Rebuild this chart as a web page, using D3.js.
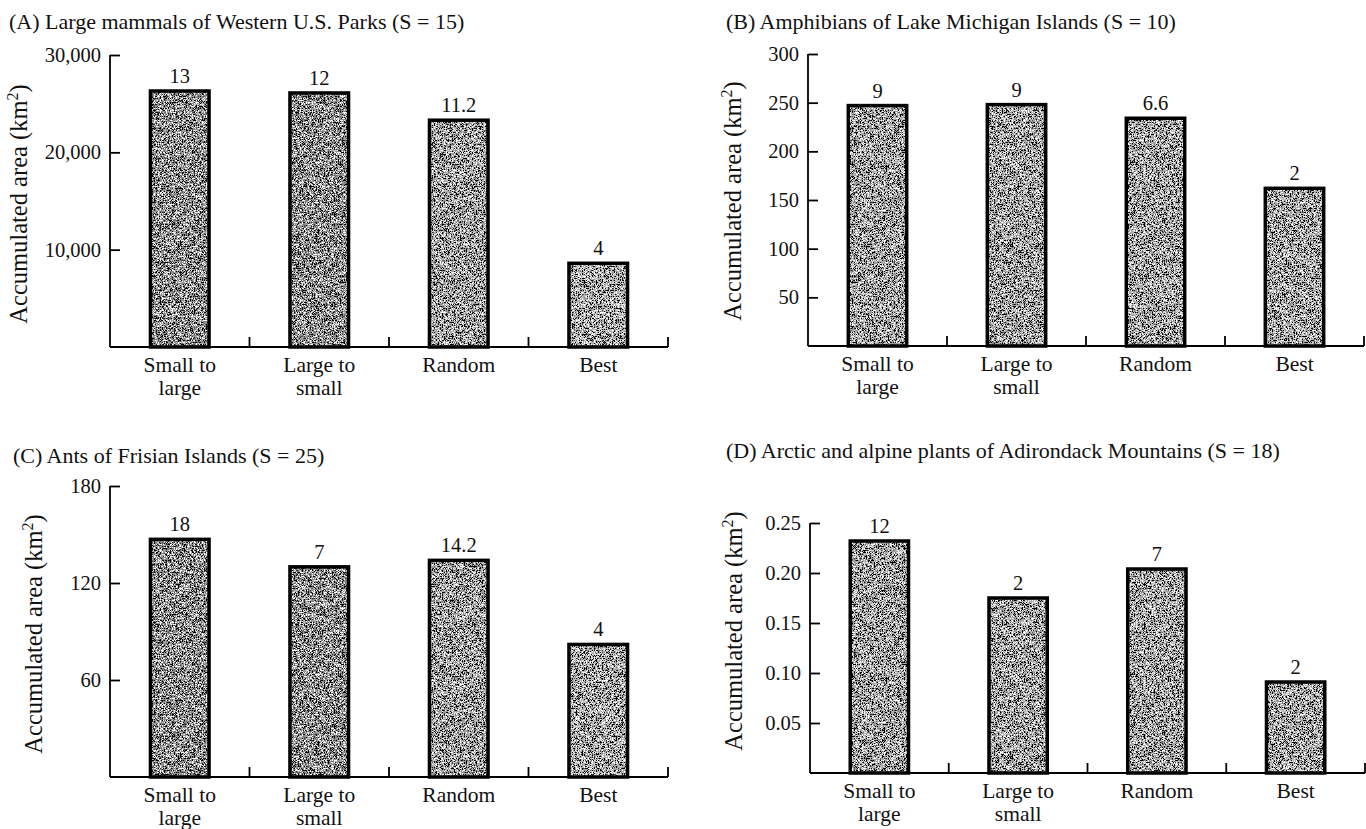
<!DOCTYPE html>
<html>
<head>
<meta charset="utf-8">
<script src="https://cdn.jsdelivr.net/npm/d3@7/dist/d3.min.js"></script>
<style>
  html, body { margin: 0; padding: 0; background: #fff; }
  svg { display: block; }
  text { font-family: "Liberation Serif", "Times New Roman", serif; fill: #111; }
</style>
</head>
<body>
<svg id="chart" width="1366" height="829"></svg>
<script>
// ---------------- DATA ----------------
const categories = ["Small to large", "Large to small", "Random", "Best"];
const categoryLines = [["Small to", "large"], ["Large to", "small"], ["Random"], ["Best"]];

const panelTitles = [
  "(A)  Large mammals of Western U.S. Parks (S = 15)",
  "(B)  Amphibians of Lake Michigan Islands (S = 10)",
  "(C)  Ants of Frisian Islands (S = 25)",
  "(D)  Arctic and alpine plants of Adirondack Mountains (S = 18)"
];

// accumulated area (km²) per strategy
const areaA = [26300, 26100, 23300, 8600];
const areaB = [247, 248, 234, 162];
const areaC = [147, 130, 134, 82];
const areaD = [0.232, 0.175, 0.204, 0.091];

// numbers printed above bars (species protected)
const countA = ["13", "12", "11.2", "4"];
const countB = ["9", "9", "6.6", "2"];
const countC = ["18", "7", "14.2", "4"];
const countD = ["12", "2", "7", "2"];

// y-axis ticks
const yTicksA = [10000, 20000, 30000];
const yTicksB = [50, 100, 150, 200, 250, 300];
const yTicksC = [60, 120, 180];
const yTicksD = [0.05, 0.10, 0.15, 0.20, 0.25];
const yMax = [30000, 300, 180, 0.25];
const yFormats = [",", "d", "d", ".2f"];

// ---------------- STYLE / LAYOUT ----------------
const layout = [
  {x0: 110, x1: 668,  yTop: 55,  yBase: 347, tx: 9,   ty: 29,  lx: 27,  ly: 204},
  {x0: 808, x1: 1364, yTop: 54,  yBase: 346, tx: 726, ty: 29,  lx: 741, ly: 201},
  {x0: 110, x1: 668,  yTop: 486, yBase: 777, tx: 13,  ty: 463, lx: 42,  ly: 634},
  {x0: 810, x1: 1365, yTop: 523, yBase: 773, tx: 726, ty: 458, lx: 742, ly: 631}
];
const barShades = [
  ["#8e8e8e", "#8e8e8e", "#a4a4a4", "#aeaeae"],
  ["#a6a6a6", "#a6a6a6", "#a8a8a8", "#aaaaaa"],
  ["#8c8c8c", "#8e8e8e", "#a2a2a2", "#acacac"],
  ["#a6a6a6", "#a6a6a6", "#a6a6a6", "#aaaaaa"]
];

const svg = d3.select("#chart");

// stipple texture filter
const defs = svg.append("defs");
const f = defs.append("filter").attr("id", "stipple")
  .attr("x", 0).attr("y", 0).attr("width", 1).attr("height", 1)
  .attr("color-interpolation-filters", "sRGB");
f.append("feTurbulence").attr("type", "fractalNoise").attr("baseFrequency", 1.5)
  .attr("numOctaves", 1).attr("seed", 5).attr("result", "n");
f.append("feColorMatrix").attr("in", "n").attr("type", "matrix")
  .attr("values", "0 0 0 0 0  0 0 0 0 0  0 0 0 0 0  9 0 0 0 -4.6").attr("result", "dk");
f.append("feColorMatrix").attr("in", "n").attr("type", "matrix")
  .attr("values", "0 0 0 0 1  0 0 0 0 1  0 0 0 0 1  -9 0 0 0 4.4").attr("result", "lt");
f.append("feComposite").attr("in", "dk").attr("in2", "SourceGraphic").attr("operator", "in").attr("result", "dk2");
f.append("feComposite").attr("in", "lt").attr("in2", "SourceGraphic").attr("operator", "in").attr("result", "lt2");
const m = f.append("feMerge");
m.append("feMergeNode").attr("in", "SourceGraphic");
m.append("feMergeNode").attr("in", "dk2");
m.append("feMergeNode").attr("in", "lt2");

const areas = [areaA, areaB, areaC, areaD];
const counts = [countA, countB, countC, countD];
const yTicks = [yTicksA, yTicksB, yTicksC, yTicksD];

layout.forEach((L, p) => {
  const g = svg.append("g");
  const x = d3.scaleBand().domain(categories).range([L.x0, L.x1])
    .paddingInner(0.58).paddingOuter(0.29);
  const y = d3.scaleLinear().domain([0, yMax[p]]).range([L.yBase, L.yTop]);
  const data = categories.map((c, i) => ({c, v: areas[p][i], n: counts[p][i], i}));

  // title
  g.append("text").attr("x", L.tx).attr("y", L.ty)
    .attr("font-size", 22).text(panelTitles[p]);

  // y label
  const yl = g.append("text")
    .attr("transform", `translate(${L.lx},${L.ly}) rotate(-90)`)
    .attr("text-anchor", "middle").attr("font-size", 24.5);
  yl.append("tspan").text("Accumulated area (km");
  yl.append("tspan").attr("font-size", 16).attr("dy", -9).text("2");
  yl.append("tspan").attr("dy", 9).text(")");

  // bars: textured fill
  g.append("g").selectAll("rect").data(data).join("rect")
    .attr("x", d => x(d.c)).attr("width", x.bandwidth())
    .attr("y", d => y(d.v)).attr("height", d => y(0) - y(d.v))
    .attr("fill", d => barShades[p][d.i])
    .attr("filter", "url(#stipple)");
  // bar outlines
  g.append("g").selectAll("rect").data(data).join("rect")
    .attr("x", d => x(d.c)).attr("width", x.bandwidth())
    .attr("y", d => y(d.v)).attr("height", d => y(0) - y(d.v))
    .attr("fill", "none").attr("stroke", "#000").attr("stroke-width", 3.5);

  // value labels
  g.append("g").selectAll("text").data(data).join("text")
    .attr("x", d => x(d.c) + x.bandwidth() / 2).attr("y", d => y(d.v) - 8)
    .attr("text-anchor", "middle").attr("font-size", 20.5).text(d => d.n);

  // y axis
  const yAxis = d3.axisRight(y).tickValues(yTicks[p]).tickSize(10).tickFormat(() => "");
  const ya = g.append("g").attr("transform", `translate(${L.x0},0)`).call(yAxis);
  ya.select(".domain").remove();
  ya.selectAll(".tick line").attr("stroke", "#000").attr("stroke-width", 1.8);
  g.append("line").attr("x1", L.x0).attr("x2", L.x0).attr("y1", L.yTop).attr("y2", L.yBase)
    .attr("stroke", "#000").attr("stroke-width", 1.8);
  g.append("g").selectAll("text").data(yTicks[p]).join("text")
    .attr("x", L.x0 - 9).attr("y", d => y(d)).attr("dy", "0.34em")
    .attr("text-anchor", "end").attr("font-size", 20.5)
    .text(d => d3.format(yFormats[p])(d));

  // x axis with upward ticks at band boundaries
  g.append("line").attr("x1", L.x0).attr("x2", L.x1).attr("y1", L.yBase).attr("y2", L.yBase)
    .attr("stroke", "#000").attr("stroke-width", 2);
  const step = x.step();
  g.append("g").selectAll("line").data(categories).join("line")
    .attr("x1", d => x(d) - step * 0.29 + step).attr("x2", d => x(d) - step * 0.29 + step)
    .attr("y1", L.yBase).attr("y2", L.yBase - 10)
    .attr("stroke", "#000").attr("stroke-width", 1.8);

  // category labels
  const cl = g.append("g").selectAll("text").data(categories).join("text")
    .attr("x", d => x(d) + x.bandwidth() / 2).attr("y", L.yBase + 25)
    .attr("text-anchor", "middle").attr("font-size", 21.5);
  cl.each(function(d, i) {
    const t = d3.select(this);
    categoryLines[i].forEach((line, k) => {
      t.append("tspan").attr("x", x(d) + x.bandwidth() / 2).attr("dy", k === 0 ? 0 : 23).text(line);
    });
  });
});
</script>
</body>
</html>
